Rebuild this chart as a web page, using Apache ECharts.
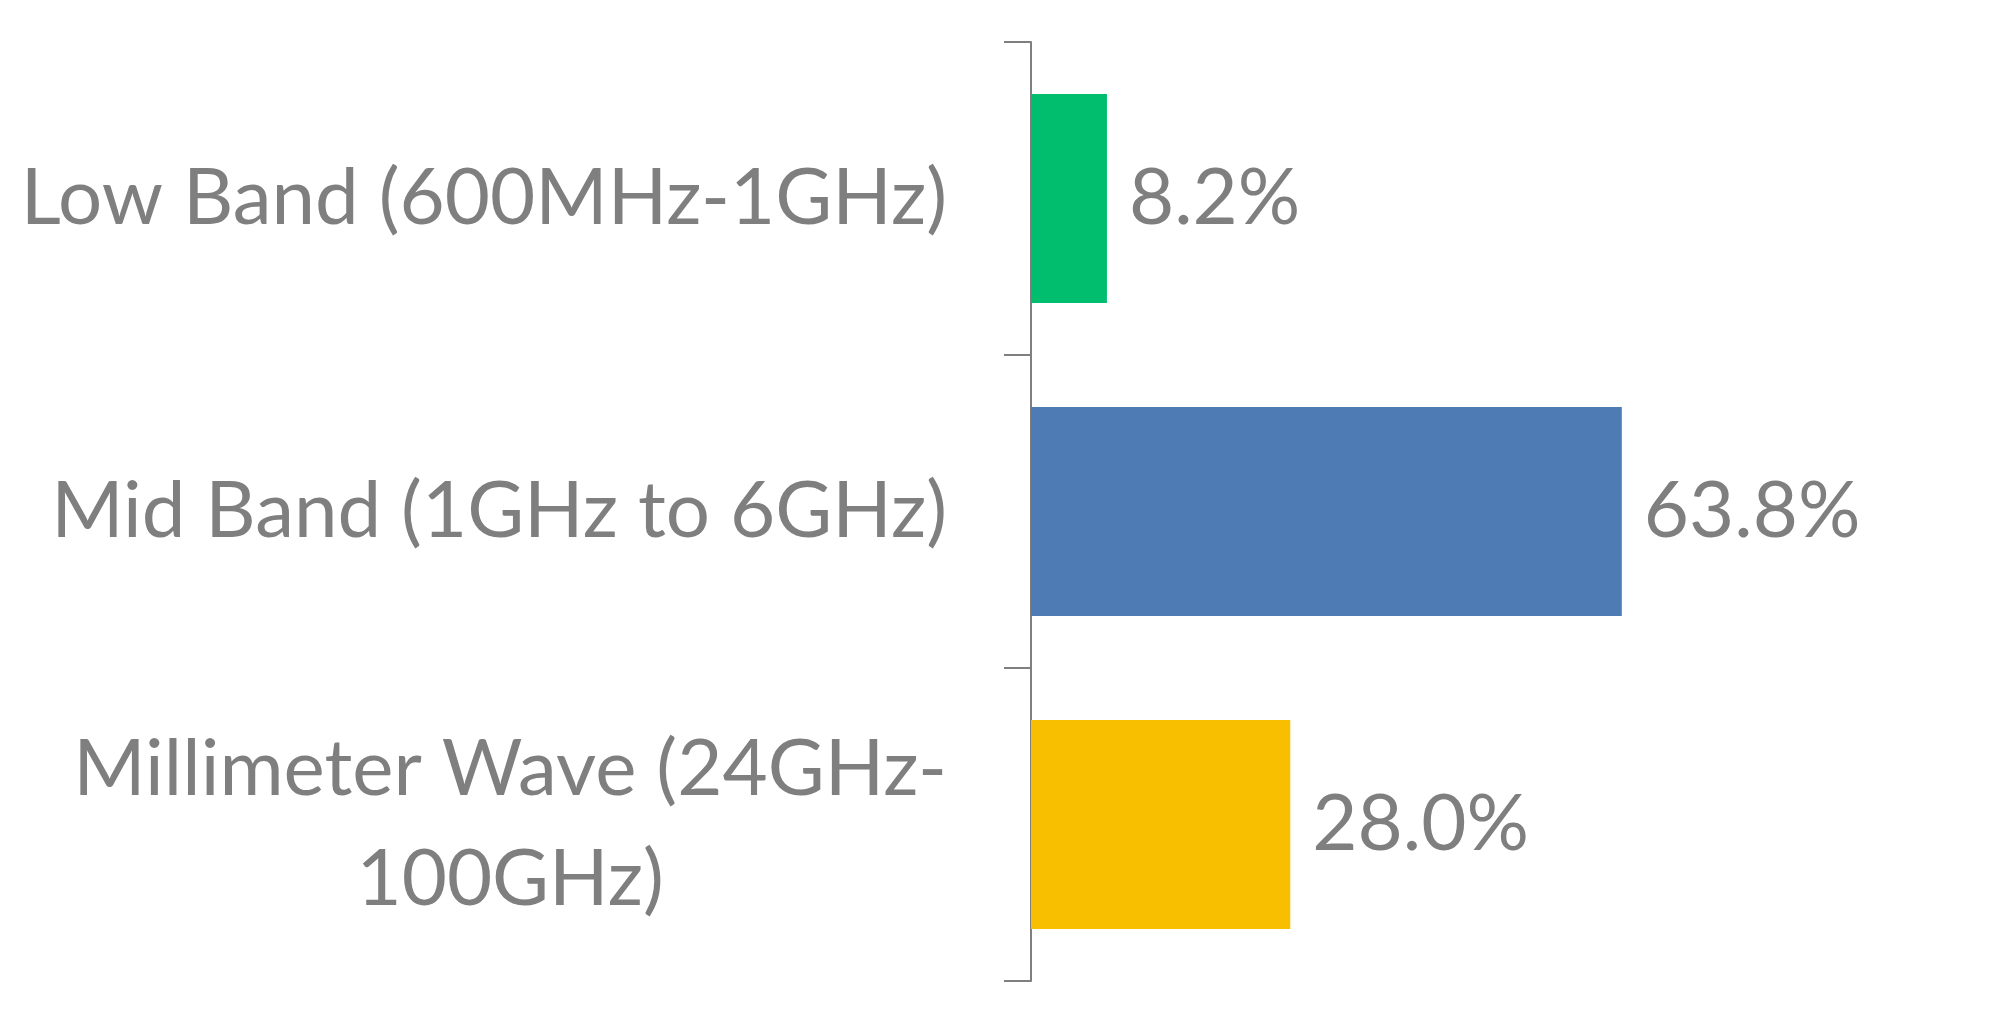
<!DOCTYPE html>
<html>
<head>
<meta charset="utf-8">
<script src="https://cdn.jsdelivr.net/npm/echarts@6/dist/echarts.min.js"></script>
<style>
html,body{margin:0;padding:0;background:#fff;}
#chart{width:2000px;height:1025px;}
</style>
</head>
<body>
<div id="chart"></div>
<script>
const categories = ['Low Band (600MHz-1GHz)', 'Mid Band (1GHz to 6GHz)', 'Millimeter Wave (24GHz-\n100GHz)'];
const shares = [8.2, 63.8, 28.0];
const barColors = ['#00BE6E', '#4F7BB4', '#F7BF00'];

const FONT = 'Lato';
const GREY = '#7f7f7f';
const FS = 78;

const chart = echarts.init(document.getElementById('chart'));
chart.setOption({
  animation: false,
  backgroundColor: '#ffffff',
  grid: { left: 1031, top: 42, width: 926, height: 939, containLabel: false, outerBoundsMode: 'none' },
  xAxis: { type: 'value', min: 0, max: 100, show: false },
  yAxis: {
    type: 'category',
    data: categories,
    inverse: true,
    axisLine: { show: true, lineStyle: { color: GREY, width: 2 } },
    axisTick: { show: true, length: 27, lineStyle: { color: GREY, width: 2 } },
    axisLabel: {
      margin: 84,
      color: GREY,
      fontFamily: FONT,
      fontSize: FS,
      lineHeight: 110,
      formatter: function (v) {
        return v.split('\n').map(function (s) { return '{c|' + s + '}'; }).join('\n');
      },
      rich: { c: { color: GREY, fontFamily: FONT, fontSize: FS, lineHeight: 110, align: 'center' } }
    }
  },
  series: [{
    type: 'bar',
    data: shares.map(function (v, i) { return { value: v, itemStyle: { color: barColors[i] } }; }),
    barWidth: 209,
    label: {
      show: true,
      position: 'right',
      distance: 22,
      color: GREY,
      fontFamily: FONT,
      fontSize: FS,
      formatter: function (p) { return p.value.toFixed(1) + '%'; }
    }
  }]
});
</script>
</body>
</html>
